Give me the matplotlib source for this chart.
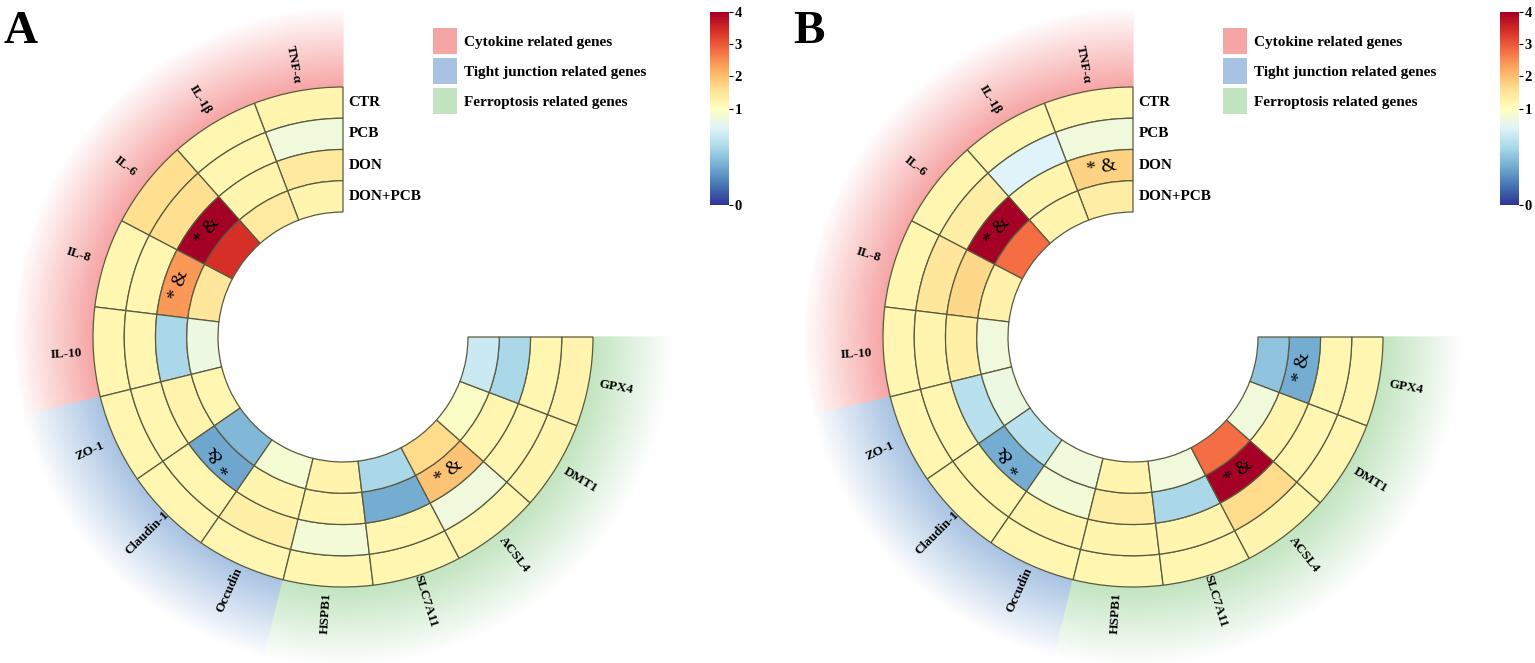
import numpy as np
import matplotlib
matplotlib.use('Agg')
import matplotlib.pyplot as plt
from matplotlib.colors import TwoSlopeNorm, LinearSegmentedColormap
from matplotlib.cm import ScalarMappable
from matplotlib.patches import Patch

plt.rcParams['font.family'] = ['Liberation Serif', 'DejaVu Serif']
plt.rcParams['font.weight'] = 'bold'

genes = ['TNF-α', 'IL-1β', 'IL-6', 'IL-8', 'IL-10', 'ZO-1', 'Claudin-1', 'Occudin',
         'HSPB1', 'SLC7A11', 'ACSL4', 'DMT1', 'GPX4']
groups = ['CTR', 'PCB', 'DON', 'DON+PCB']
categories = ['Cytokine related genes', 'Tight junction related genes', 'Ferroptosis related genes']
category_sizes = [5, 3, 5]
category_colors = ['#f6a5a5', '#a8c3e2', '#c2e4c0']

# panel A, relative expression (one list per ring, genes in order)
ctr_a = [1.2, 1.18, 1.6, 1.18, 1.18, 1.18, 1.18, 1.18, 1.18, 1.18, 1.18, 1.2, 1.22]
pcb_a = [0.9, 1.18, 1.6, 1.18, 1.18, 1.18, 1.18, 1.3, 0.92, 1.18, 0.9, 1.18, 1.18]
don_a = [1.4, 1.2, 4.0, 2.4, 0.6, 1.22, 0.38, 1.2, 1.2, 0.4, 1.95, 1.18, 0.6]
donpcb_a = [1.2, 1.38, 3.4, 1.45, 0.88, 1.18, 0.45, 0.93, 1.22, 0.6, 1.65, 0.97, 0.72]
marks_a = [('IL-6', 'DON'), ('IL-8', 'DON'), ('Claudin-1', 'DON'), ('ACSL4', 'DON')]

# panel B
ctr_b = [1.18, 1.18, 1.18, 1.18, 1.18, 1.18, 1.18, 1.18, 1.18, 1.18, 1.2, 1.18, 1.18]
pcb_b = [0.9, 0.8, 1.35, 1.45, 1.2, 1.18, 1.18, 1.2, 1.2, 1.2, 1.65, 1.18, 1.18]
don_b = [1.75, 1.2, 4.0, 1.7, 1.3, 0.65, 0.4, 0.92, 1.35, 0.6, 4.0, 1.2, 0.4]
donpcb_b = [1.35, 1.2, 2.8, 1.28, 0.9, 0.88, 0.65, 0.9, 1.2, 0.9, 2.8, 0.9, 0.5]
marks_b = [('TNF-α', 'DON'), ('IL-6', 'DON'), ('Claudin-1', 'DON'), ('ACSL4', 'DON'), ('GPX4', 'DON')]

W, H = 1535, 663
R_IN, R_OUT, R_BG = 125, 250, 330
ring_w = (R_OUT - R_IN) / len(groups)
step = 270 / len(genes)

cmap = plt.get_cmap('RdYlBu_r')
norm = TwoSlopeNorm(vmin=0, vcenter=1, vmax=4)

fig = plt.figure(figsize=(W / 100, H / 100), dpi=100)


def draw_panel(cx, cy, rings, marks, letter):
    half = 345
    ax = fig.add_axes([(cx - half) / W, (H - cy - half) / H, 2 * half / W, 2 * half / H],
                      projection='polar')

    # faded background per gene group
    start = 0
    for size, col in zip(category_sizes, category_colors):
        t0 = np.deg2rad(90 + start * step)
        t1 = np.deg2rad(90 + (start + size) * step)
        T, R = np.meshgrid(np.linspace(t0, t1, 80), np.linspace(R_OUT, R_BG, 40))
        fade = LinearSegmentedColormap.from_list('fade', [col, '#ffffff'])
        ax.pcolormesh(T, R, (R - R_OUT) / (R_BG - R_OUT), cmap=fade, shading='gouraud',
                      vmin=0, vmax=1, zorder=0)
        start += size

    # heatmap cells
    for j, vals in enumerate(rings):
        bottom = R_OUT - (j + 1) * ring_w
        for i, v in enumerate(vals):
            th = np.deg2rad(90 + (i + 0.5) * step)
            ax.bar(th, ring_w, width=np.deg2rad(step), bottom=bottom,
                   color=cmap(norm(v)), edgecolor='#5a5a40', linewidth=0.9, zorder=2)

    # significance marks
    for g, grp in marks:
        i = genes.index(g)
        j = groups.index(grp)
        deg = 90 + (i + 0.5) * step
        rot = deg - 90 if deg < 270 else deg - 270
        r = R_OUT - (j + 0.5) * ring_w
        ax.text(np.deg2rad(deg), r, '* &', rotation=rot, rotation_mode='anchor',
                ha='center', va='center', fontsize=14, fontweight='normal', zorder=3)

    # gene labels
    for i, g in enumerate(genes):
        deg = 90 + (i + 0.5) * step
        rot = deg - 180 if deg < 270 else deg - 360
        ax.text(np.deg2rad(deg), 277, g, rotation=rot, rotation_mode='anchor',
                ha='center', va='center', fontsize=9.5, zorder=3)

    # ring labels
    for j, grp in enumerate(groups):
        ax.annotate(grp, xy=(np.pi / 2, R_OUT - (j + 0.5) * ring_w), xytext=(4, 0),
                    textcoords='offset points', ha='left', va='center', fontsize=11)

    ax.set_ylim(0, half)
    ax.set_axis_off()

    handles = [Patch(facecolor=c, edgecolor='none') for c in category_colors]
    fig.legend(handles, categories, loc='upper left',
               bbox_to_anchor=((cx + 90) / W, 1 - 28 / H), frameon=False,
               prop={'size': 11, 'weight': 'bold'}, handlelength=1.55, handleheight=2.2,
               handletextpad=0.45, labelspacing=0.3, borderpad=0, borderaxespad=0)

    cax = fig.add_axes([(cx + 367) / W, (H - 205) / H, 19 / W, 193 / H])
    cb = fig.colorbar(ScalarMappable(norm=norm, cmap=cmap), cax=cax, ticks=[0, 1, 2, 3, 4])
    cb.outline.set_linewidth(0)
    cax.tick_params(labelsize=10.5, length=3, width=0.8, pad=1)

    fig.text((cx - 340) / W, 1 - 43 / H, letter, fontsize=34, fontweight='bold',
             ha='left', va='baseline')


draw_panel(343, 337, [ctr_a, pcb_a, don_a, donpcb_a], marks_a, 'A')
draw_panel(1133, 337, [ctr_b, pcb_b, don_b, donpcb_b], marks_b, 'B')

fig.savefig('out.png', dpi=100)
